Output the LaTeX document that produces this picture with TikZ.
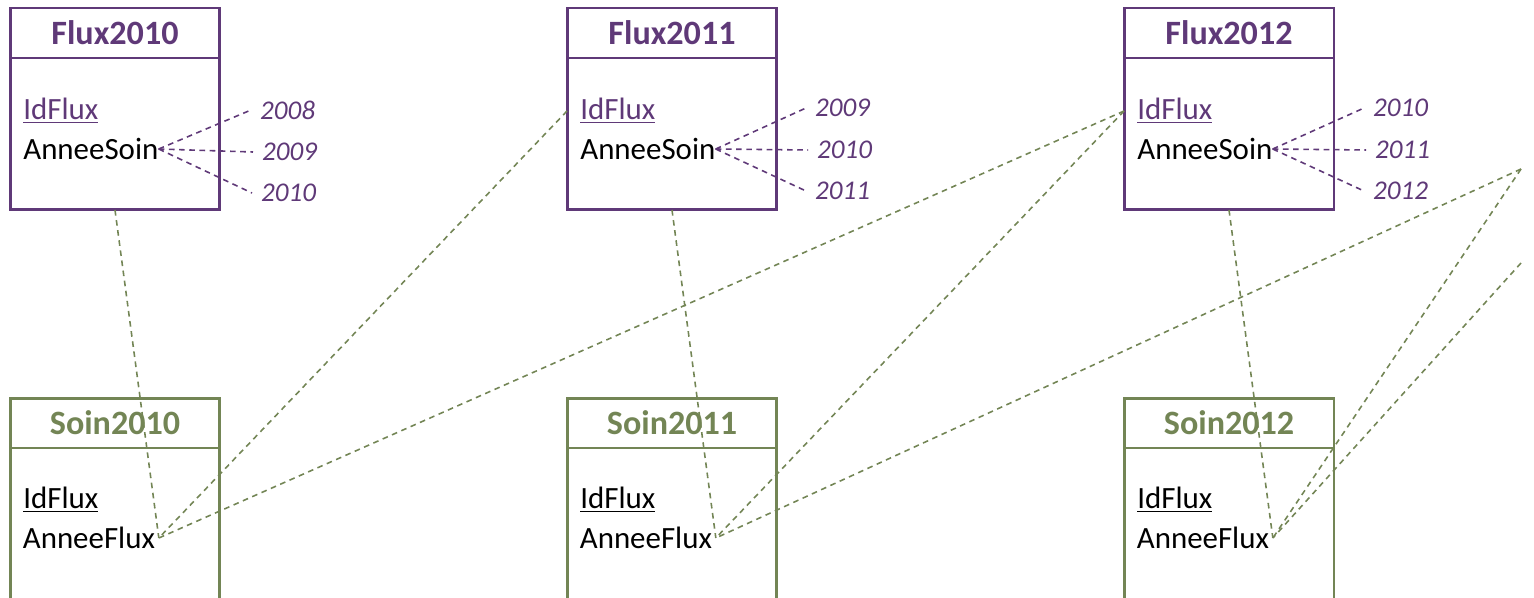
\documentclass[tikz,border=0pt]{standalone}
\usepackage{fontspec}
\setmainfont{Carlito}
\usetikzlibrary{positioning}

\definecolor{fluxpurple}{RGB}{95,57,120}
\definecolor{soingreen}{RGB}{115,133,85}

\begin{document}
\begin{tikzpicture}[x=0.02cm,y=-0.02cm]

    \tikzset{
      tabhead/.style={
        draw,
        line width=1.7pt,
        outer sep=0pt,
        minimum width=4.2cm,
        minimum height=1cm,
        font=\fontsize{19.4}{23}\selectfont\bfseries,
      },
      tabbody/.style={
        draw,
        line width=1.7pt,
        outer sep=0pt,
        minimum width=4.2cm,
        minimum height=3.04cm,
      },
      attr/.style={anchor=west, inner sep=0pt, font=\fontsize{17.6}{21}\selectfont},
      year/.style={anchor=west, inner ysep=1pt, inner xsep=5pt, text=fluxpurple,
        font=\fontsize{15.4}{18}\selectfont\itshape},
      yearlink/.style={fluxpurple, dash pattern=on 3.2pt off 2.6pt, line width=0.9pt},
      soinlink/.style={soingreen, dash pattern=on 3.2pt off 2.6pt, line width=0.9pt},
    }
    \path[use as bounding box, clip] (0,0) rectangle (1534,598);

	% tables Flux
	\node[tabhead, draw=fluxpurple, text=fluxpurple] (f10) at (115,33) {Flux2010};
	\node[tabbody, draw=fluxpurple, below=0pt of f10] (f10b) {};
	\node[tabhead, draw=fluxpurple, text=fluxpurple] (f11) at (672,33) {Flux2011};
	\node[tabbody, draw=fluxpurple, below=0pt of f11] (f11b) {};
	\node[tabhead, draw=fluxpurple, text=fluxpurple] (f12) at (1229,33) {Flux2012};
	\node[tabbody, draw=fluxpurple, below=0pt of f12] (f12b) {};

	\node[attr, text=fluxpurple] (f10id) at (23,111) {\underline{IdFlux}};
	\node[attr] (f10an) at (23,149) {AnneeSoin};
	\node[attr, text=fluxpurple] (f11id) at (580,111) {\underline{IdFlux}};
	\node[attr] (f11an) at (580,149) {AnneeSoin};
	\node[attr, text=fluxpurple] (f12id) at (1137,111) {\underline{IdFlux}};
	\node[attr] (f12an) at (1137,149) {AnneeSoin};

	% tables Soin
	\node[tabhead, draw=soingreen, text=soingreen] (s10) at (115,423) {Soin2010};
	\node[tabbody, draw=soingreen, minimum height=4cm, below=0pt of s10] (s10b) {};
	\node[tabhead, draw=soingreen, text=soingreen] (s11) at (672,423) {Soin2011};
	\node[tabbody, draw=soingreen, minimum height=4cm, below=0pt of s11] (s11b) {};
	\node[tabhead, draw=soingreen, text=soingreen] (s12) at (1229,423) {Soin2012};
	\node[tabbody, draw=soingreen, minimum height=4cm, below=0pt of s12] (s12b) {};

	\node[attr] (s10id) at (23,500) {\underline{IdFlux}};
	\node[attr, inner xsep=2pt] (s10an) at (19,538) {AnneeFlux};
	\node[attr] (s11id) at (580,500) {\underline{IdFlux}};
	\node[attr, inner xsep=2pt] (s11an) at (576,538) {AnneeFlux};
	\node[attr] (s12id) at (1137,500) {\underline{IdFlux}};
	\node[attr, inner xsep=2pt] (s12an) at (1133,538) {AnneeFlux};

	% years
	\node[year] (f10y1) at (251,110) {2008};
	\node[year] (f10y2) at (253,152) {2009};
	\node[year] (f10y3) at (252,193) {2010};
	\node[year] (f11y1) at (806,108) {2009};
	\node[year] (f11y2) at (808,150) {2010};
	\node[year] (f11y3) at (806,191) {2011};
	\node[year] (f12y1) at (1364,108) {2010};
	\node[year] (f12y2) at (1366,150) {2011};
	\node[year] (f12y3) at (1364,191) {2012};

	\draw[yearlink] (f10an.east) -- (f10y1.west);
	\draw[yearlink] (f10an.east) -- (f10y2.west);
	\draw[yearlink] (f10an.east) -- (f10y3.west);
	\draw[yearlink] (f11an.east) -- (f11y1.west);
	\draw[yearlink] (f11an.east) -- (f11y2.west);
	\draw[yearlink] (f11an.east) -- (f11y3.west);
	\draw[yearlink] (f12an.east) -- (f12y1.west);
	\draw[yearlink] (f12an.east) -- (f12y2.west);
	\draw[yearlink] (f12an.east) -- (f12y3.west);

	% links Soin -> Flux
	\coordinate (f13top) at (1521,169);
	\coordinate (f13id) at (1521,263);
	\draw[soinlink] (f10b.south) -- (s10an.east);
	\draw[soinlink] (f11b.west |- f11id) -- (s10an.east);
	\draw[soinlink] (f12b.west |- f12id) -- (s10an.east);
	\draw[soinlink] (f11b.south) -- (s11an.east);
	\draw[soinlink] (f12b.west |- f12id) -- (s11an.east);
	\draw[soinlink] (f13top) -- (s11an.east);
	\draw[soinlink] (f12b.south) -- (s12an.east);
	\draw[soinlink] (f13top) -- (s12an.east);
	\draw[soinlink] (f13id) -- (s12an.east);

\end{tikzpicture}
\end{document}
